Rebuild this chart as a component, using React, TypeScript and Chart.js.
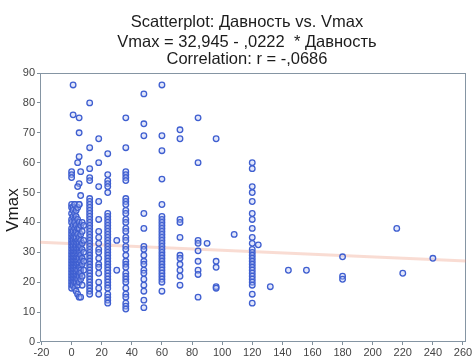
import React, { useEffect, useRef } from "react";
import { Chart, registerables } from "chart.js";

Chart.register(...registerables);

// Title lines and axis captions
const titleLines = [
  "Scatterplot: Давность vs. Vmax",
  "Vmax = 32,945 - ,0222  * Давность",
  "Correlation: r = -,0686",
];
const yTitle = "Vmax";

// Regression coefficients from the fitted equation
const intercept = 32.945;
const slope = -0.0222;

// Axis ranges (a little slack beyond the outer tick marks)
const xRange = [-21, 262];
const yRange = [0, 90];
const xTickFirst = -20;
const xTickLast = 260;

// Early cases (Давность 0–8) and their Vmax
const earlyDays = [
  1, 1, 5, 5, 5, 4, 0, 0, 0, 6, 5, 4, 6, 2, 5,
  0, 0, 0, 0, 0, 0, 0, 0, 0, 0, 0, 0, 0, 0, 0, 0, 0, 0, 0, 0, 0, 0, 0, 0, 0, 0,
  1, 1, 1, 1, 1, 1, 1, 1, 1, 1, 1, 1, 1, 1, 1, 1, 1, 1, 1, 1, 1, 1,
  2, 2, 2, 2, 2, 2, 2, 2, 2, 2, 2, 2, 2, 2, 2, 2, 2, 2, 2, 2, 2,
  3, 3, 3, 3, 3, 3, 3, 3, 3, 3, 3, 3, 3, 3, 3, 3, 3, 3, 3,
  4, 4, 4, 4, 4, 4, 4, 4, 4, 4, 4, 4, 4, 4, 4, 4, 4,
  5, 5, 5, 5, 5, 5, 5, 5, 5, 5, 5, 5, 5, 5, 5,
  6, 6, 6, 6, 6, 6, 6, 6, 6, 6, 6, 6,
  7, 7, 7, 7, 7, 7, 7, 7,
  8, 8, 8, 8, 8,
];
const earlyVmax = [
  86, 76, 75, 70, 62, 60, 57, 56, 55, 57, 53, 52, 49, 46, 46,
  46, 45, 43, 41, 40, 38, 37, 36, 35, 34, 33, 32, 31, 30, 29, 28, 27, 26, 25, 24, 23, 22, 21, 20, 19, 18,
  45, 44, 42, 39, 37, 35, 34, 33, 32, 31, 30, 29, 28, 27, 26, 25, 24, 23, 22, 21, 20, 19,
  46, 43, 41, 40, 38, 36, 35, 33, 31, 30, 29, 28, 27, 26, 25, 24, 23, 22, 21, 20, 18,
  44, 42, 39, 37, 35, 33, 32, 31, 30, 28, 27, 26, 25, 24, 23, 22, 21, 20, 17,
  45, 41, 38, 36, 34, 33, 31, 30, 29, 28, 27, 26, 24, 22, 21, 19, 16,
  46, 40, 38, 35, 33, 32, 31, 30, 28, 26, 25, 23, 22, 20, 15,
  39, 36, 34, 32, 30, 29, 27, 25, 24, 23, 21, 15,
  40, 37, 33, 31, 28, 26, 22, 19,
  39, 34, 30, 27, 24,
];

// Vmax for cases recorded at whole-month intervals
const vmaxAt12 = [80, 65, 58, 55, 54, 48, 47, 46, 45, 44, 43, 42, 41, 40, 39, 38, 37, 36, 35, 34, 33, 32, 31, 30, 29, 28, 27, 26, 25, 24, 23, 22, 21, 20, 19, 18, 17, 16];
const vmaxAt18 = [68, 60, 52, 47, 41, 37, 35, 33, 31, 30, 28, 26, 25, 23, 20, 18, 16];
const vmaxAt24 = [63, 56, 54, 53, 52, 50, 43, 42, 41, 40, 39, 38, 37, 36, 35, 34, 33, 32, 31, 30, 29, 28, 27, 26, 25, 24, 23, 22, 21, 20, 19, 18, 16, 15, 14, 13];
const vmaxAt30 = [34, 24];
const vmaxAt36 = [75, 65, 57, 56, 55, 54, 48, 47, 46, 44, 43, 41, 40, 38, 37, 35, 34, 32, 31, 29, 27, 26, 25, 23, 22, 21, 20, 18, 16, 15, 13, 12, 11];
const vmaxAt48 = [83, 73, 69, 43, 38, 32, 31, 29, 27, 26, 24, 23, 21, 19, 17, 14, 11.5];
const vmaxAt60 = [86, 69, 64, 54.5, 46, 42, 41, 40, 39, 38, 37, 36, 35, 34, 33, 32, 31, 30, 29, 28, 27, 26, 25, 24, 23, 22, 21, 20, 17];
const vmaxAt72 = [71, 68, 41, 40, 35, 29, 28, 26, 24, 22, 19];
const vmaxAt84 = [75, 60, 34, 33, 30.5, 27, 24, 22.6, 15];
const vmaxAt96 = [68, 27, 25, 18.5, 18];
const vmaxAt120 = [60, 58, 52, 50, 47, 43, 41, 38, 35, 33, 31, 30, 29, 28, 27, 26, 25, 24, 23, 22, 21, 20, 19, 16, 13];

// Scattered single cases
const lateDays = [90, 108, 124, 132, 144, 156, 180, 180, 180, 216, 220, 240];
const lateVmax = [33, 36, 32.5, 18.5, 24, 24, 28.5, 22, 21, 38, 23, 28];

const monthColumns: [number, number[]][] = [
  [12, vmaxAt12],
  [18, vmaxAt18],
  [24, vmaxAt24],
  [30, vmaxAt30],
  [36, vmaxAt36],
  [48, vmaxAt48],
  [60, vmaxAt60],
  [72, vmaxAt72],
  [84, vmaxAt84],
  [96, vmaxAt96],
  [120, vmaxAt120],
];

const FONT = '"Liberation Sans", Arial, sans-serif';

function buildPoints() {
  const pts: { x: number; y: number }[] = [];
  earlyDays.forEach((d, i) => pts.push({ x: d, y: earlyVmax[i] }));
  monthColumns.forEach(([d, list]) => list.forEach((v) => pts.push({ x: d, y: v })));
  lateDays.forEach((d, i) => pts.push({ x: d, y: lateVmax[i] }));
  return pts;
}

const framePlugin = {
  id: "plotFrame",
  beforeDatasetsDraw(chart: any) {
    const { ctx, chartArea } = chart;
    const { left, top, right, bottom } = chartArea;
    ctx.save();
    ctx.strokeStyle = "#8595a3";
    ctx.lineWidth = 1;
    ctx.strokeRect(left + 0.5, top + 0.5, right - left - 1, bottom - top - 1);
    ctx.restore();
  },
};

const captionPlugin = {
  id: "captions",
  afterDraw(chart: any) {
    const { ctx } = chart;
    ctx.save();
    ctx.fillStyle = "#1c1c1c";
    ctx.textAlign = "center";
    ctx.textBaseline = "alphabetic";
    ctx.font = `16.5px ${FONT}`;
    const baselines = [27, 47, 63.5];
    titleLines.forEach((t, i) => ctx.fillText(t, 247, baselines[i]));

    ctx.translate(13, 210);
    ctx.rotate(-Math.PI / 2);
    ctx.textBaseline = "middle";
    ctx.font = `17px ${FONT}`;
    ctx.fillText(yTitle, 0, 0);
    ctx.restore();
  },
};

export default function App() {
  const canvasRef = useRef<HTMLCanvasElement | null>(null);

  useEffect(() => {
    const canvas = canvasRef.current;
    if (!canvas) return;
    const points = buildPoints();
    const chart = new Chart(canvas, {
      type: "scatter",
      data: {
        datasets: [
          {
            data: points,
            pointRadius: 2.8,
            pointBorderWidth: 1.3,
            borderColor: "#3f5fd0",
            backgroundColor: "rgba(185,195,245,0.4)",
            order: 1,
          },
          {
            data: [
              { x: xRange[0], y: intercept + slope * xRange[0] },
              { x: xRange[1], y: intercept + slope * xRange[1] },
            ],
            showLine: true,
            pointRadius: 0,
            borderColor: "rgba(235,140,110,0.3)",
            borderWidth: 3,
            order: 2,
          },
        ],
      },
      options: {
        responsive: false,
        animation: false,
        layout: { padding: { top: 73, right: 6, bottom: 0, left: 0 } },
        plugins: {
          legend: { display: false },
          tooltip: { enabled: false },
          title: { display: false },
        },
        scales: {
          x: {
            type: "linear",
            min: xRange[0],
            max: xRange[1],
            afterBuildTicks(scale: any) {
              const ticks = [];
              for (let v = xTickFirst; v <= xTickLast; v += 20) ticks.push({ value: v });
              scale.ticks = ticks;
            },
            afterFit(scale: any) {
              scale.height = 16;
              scale.paddingLeft = 0;
              scale.paddingRight = 0;
            },
            ticks: {
              color: "#444",
              font: { family: FONT, size: 11 },
              padding: 1,
              maxRotation: 0,
              autoSkip: false,
            },
            grid: {
              drawOnChartArea: false,
              drawTicks: true,
              tickLength: 3,
              color: "#7f8f9b",
            },
            border: { display: false },
          },
          y: {
            type: "linear",
            min: yRange[0],
            max: yRange[1],
            afterFit(scale: any) {
              scale.width = 40;
              scale.paddingTop = 0;
              scale.paddingBottom = 0;
            },
            ticks: {
              stepSize: 10,
              color: "#444",
              font: { family: FONT, size: 11 },
              padding: 2,
            },
            grid: {
              drawOnChartArea: false,
              drawTicks: true,
              tickLength: 3,
              color: "#7f8f9b",
            },
            border: { display: false },
          },
        },
      },
      plugins: [framePlugin, captionPlugin],
    });
    return () => chart.destroy();
  }, []);

  return (
    <div style={{ position: "absolute", left: 0, top: 0, width: 472, height: 358, background: "#fff" }}>
      <canvas ref={canvasRef} width={472} height={358} style={{ display: "block" }} />
    </div>
  );
}
